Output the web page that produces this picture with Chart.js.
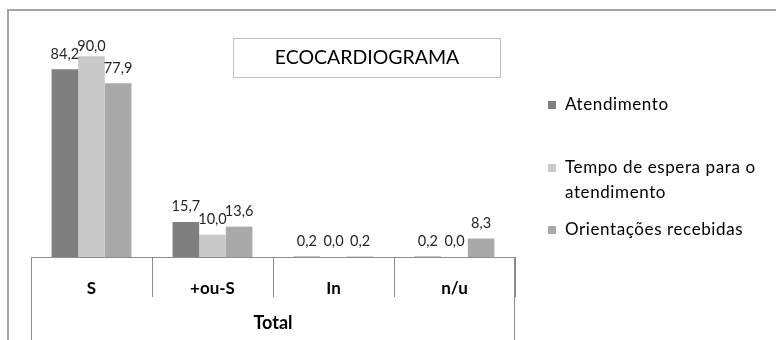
<!DOCTYPE html>
<html>
<head>
<meta charset="utf-8">
<script src="https://cdn.jsdelivr.net/npm/chart.js@4"></script>
<style>
  html, body { margin: 0; padding: 0; background: #fff; }
  #wrap { width: 776px; height: 340px; }
</style>
</head>
<body>
<div id="wrap"><canvas id="ecoChart" width="776" height="340"></canvas></div>
<script>
const categorias = ['S', '+ou-S', 'In', 'n/u'];
const atendimento = [84.2, 15.7, 0.2, 0.2];
const tempoEspera = [90.0, 10.0, 0.0, 0.0];
const orientacoes = [77.9, 13.6, 0.2, 8.3];
const seriesNomes = ['Atendimento', 'Tempo de espera para o atendimento', 'Orientações recebidas'];
const tituloGrafico = 'ECOCARDIOGRAMA';
const grupoEixo = 'Total';

const fonte = 'Lato, "Open Sans", sans-serif';
const linha = '#8c8c8c';

// frame, title box, outer category lines, value labels and legend
const extras = {
  id: 'extras',
  afterDraw(chart) {
    const ctx = chart.ctx;
    const area = chart.chartArea;
    ctx.save();

    // outer frame
    ctx.strokeStyle = '#a6a6a6';
    ctx.lineWidth = 2;
    ctx.strokeRect(8, 10, 820, 400);

    // outer vertical lines of the "Total" box
    ctx.strokeStyle = linha;
    ctx.lineWidth = 1;
    ctx.beginPath();
    ctx.moveTo(Math.round(area.left) + 0.5, area.bottom);
    ctx.lineTo(Math.round(area.left) + 0.5, chart.height);
    ctx.moveTo(Math.round(area.right) - 0.5, area.bottom);
    ctx.lineTo(Math.round(area.right) - 0.5, chart.height);
    ctx.stroke();

    // title box
    ctx.strokeStyle = '#bfbfbf';
    ctx.strokeRect(233.5, 38.5, 267, 39);
    ctx.fillStyle = '#000';
    ctx.font = '19.5px ' + fonte;
    ctx.textAlign = 'center';
    ctx.textBaseline = 'middle';
    ctx.fillText(tituloGrafico, 367, 58);

    // value labels
    ctx.font = '14.5px ' + fonte;
    ctx.fillStyle = '#262626';
    ctx.textBaseline = 'bottom';
    chart.data.datasets.forEach((ds, i) => {
      chart.getDatasetMeta(i).data.forEach((bar, j) => {
        const txt = ds.data[j].toFixed(1).replace('.', ',');
        ctx.fillText(txt, bar.x, Math.max(bar.y - 8, area.top + 20));
      });
    });

    // legend
    const ys = [105, 168, 230];
    ctx.font = '17px ' + fonte;
    ctx.textAlign = 'left';
    ctx.textBaseline = 'middle';
    if ('letterSpacing' in ctx) ctx.letterSpacing = '0.6px';
    chart.data.datasets.forEach((ds, i) => {
      ctx.fillStyle = ds.backgroundColor;
      ctx.fillRect(548, ys[i] - 4, 8, 8);
      ctx.fillStyle = '#000';
      const palavras = ds.label.split(' ');
      let linhaTxt = '';
      let y = ys[i];
      palavras.forEach(p => {
        const teste = linhaTxt ? linhaTxt + ' ' + p : p;
        if (ctx.measureText(teste).width > 210 && linhaTxt) {
          ctx.fillText(linhaTxt, 565, y);
          linhaTxt = p;
          y += 25;
        } else {
          linhaTxt = teste;
        }
      });
      ctx.fillText(linhaTxt, 565, y);
    });
    ctx.restore();
  }
};

new Chart(document.getElementById('ecoChart'), {
  type: 'bar',
  data: {
    labels: categorias,
    datasets: [
      { label: seriesNomes[0], data: atendimento, backgroundColor: '#7f7f7f' },
      { label: seriesNomes[1], data: tempoEspera, backgroundColor: '#c8c8c8' },
      { label: seriesNomes[2], data: orientacoes, backgroundColor: '#a9a9a9' }
    ]
  },
  options: {
    responsive: false,
    animation: false,
    layout: { padding: { top: 34, left: 31, right: 261, bottom: 0 } },
    datasets: {
      bar: { categoryPercentage: 0.66, barPercentage: 1.0 }
    },
    scales: {
      y: { display: false, min: 0, max: 100 },
      x: {
        afterFit(scale) { scale.height = 83; },
        grid: {
          offset: true,
          drawOnChartArea: false,
          drawTicks: true,
          tickLength: 40,
          color: linha
        },
        border: { display: true, color: linha },
        ticks: {
          padding: -19,
          color: '#000',
          font: { family: fonte, size: 17, weight: 'bold' }
        },
        title: {
          display: true,
          text: grupoEixo,
          color: '#000',
          padding: { top: 0, bottom: 6 },
          font: { family: fonte, size: 18, weight: 'bold' }
        }
      }
    },
    plugins: {
      legend: { display: false },
      tooltip: { enabled: false }
    }
  },
  plugins: [extras]
});
</script>
</body>
</html>
